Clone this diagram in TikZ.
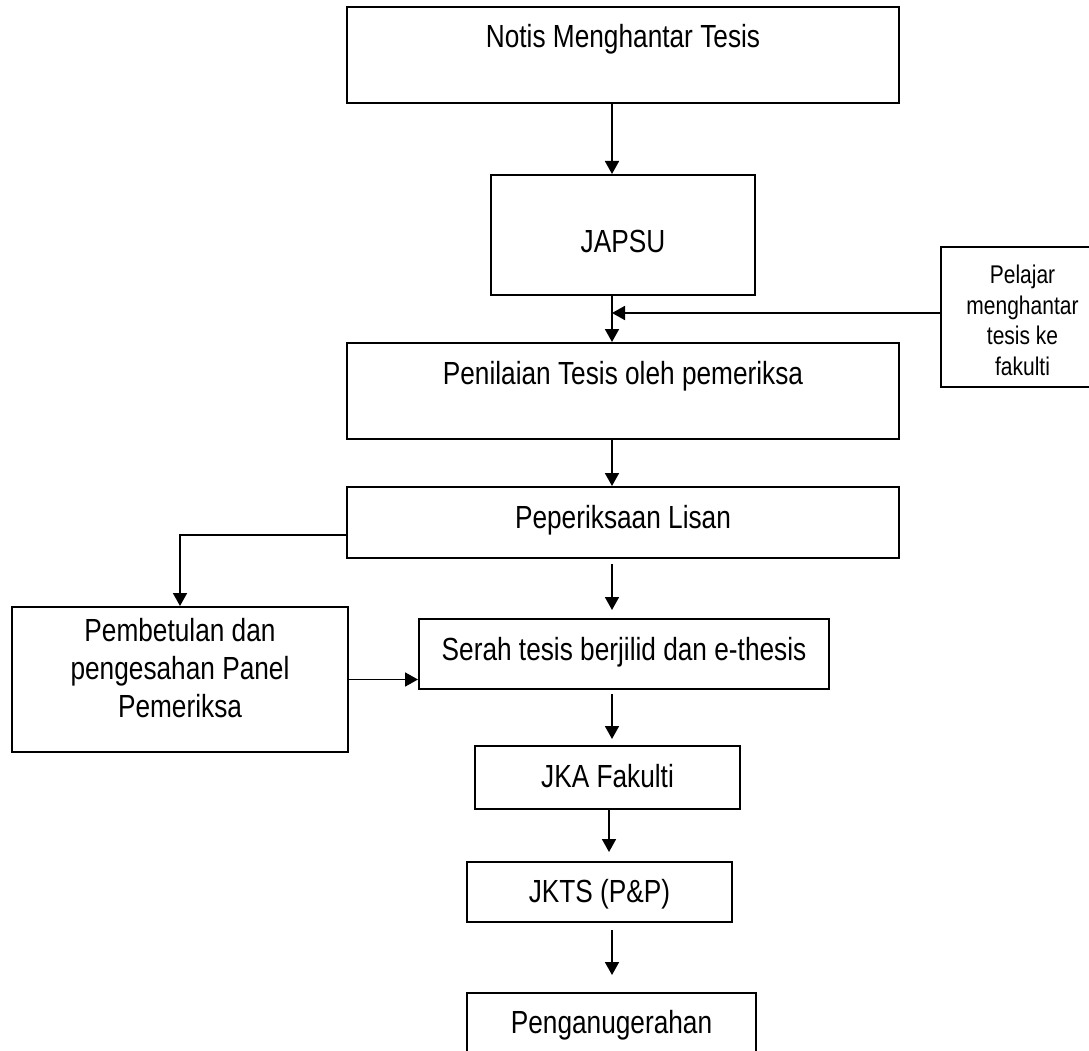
\documentclass[tikz,border=0pt]{standalone}
\usepackage{fontspec}
\setmainfont{Liberation Sans}[FakeStretch=0.82]
\usepackage{tikz}
\usetikzlibrary{arrows.meta}

\begin{document}
\begin{tikzpicture}[x=1pt,y=-1pt,
        >={Triangle[length=13pt,width=14pt]},
        box/.style={draw,line width=2pt,inner sep=0pt,font=\fontsize{32pt}{38pt}\selectfont},
        flow/.style={->,line width=1.8pt}]
        \useasboundingbox (0,0) rectangle (1089,1051);
        \clip (0,0) rectangle (1089,1051);
        \node[box,minimum width=552pt,minimum height=96pt,text height=23pt,text depth=37pt] (notis) at (623,55) {Notis Menghantar Tesis};
        \node[box,minimum width=264pt,minimum height=120pt,text height=40pt,text depth=6pt] (japsu) at (623,235) {JAPSU};
        \node[box,minimum width=163pt,minimum height=140pt,align=center,font=\fontsize{25.6pt}{30.5pt}\selectfont] (pelajar) at (1022.5,317) {\rule{0pt}{25.5pt}Pelajar\\menghantar\\tesis ke\\fakulti};
        \node[box,minimum width=552pt,minimum height=96pt,text height=23pt,text depth=37pt] (penilaian) at (623,391) {Penilaian Tesis oleh pemeriksa};
        \node[box,minimum width=552pt,minimum height=71pt,text height=23pt,text depth=12pt] (lisan) at (623,522.5) {Peperiksaan Lisan};
        \node[box,minimum width=336pt,minimum height=145pt,align=center] (pembetulan) at (180,679.5) {Pembetulan dan\\pengesahan Panel\\Pemeriksa\rule[-23pt]{0pt}{0pt}};
        \node[box,minimum width=410pt,minimum height=70pt,text height=23pt,text depth=11pt] (serah) at (624,654) {Serah tesis berjilid dan e-thesis};
        \node[box,minimum width=265pt,minimum height=63pt,text height=25pt,text depth=6pt] (jka) at (607.5,777.5) {JKA Fakulti};
        \node[box,minimum width=265pt,minimum height=60pt,text height=26pt,text depth=6pt] (jkts) at (599.5,892) {JKTS (P\&P)};
        \node[box,minimum width=289pt,minimum height=62pt,text height=24pt,text depth=6pt] (anugerah) at (611.5,1024) {Penganugerahan};
        \coordinate (join) at (612,313);
        \draw[flow] ([xshift=-11pt]notis.south) -- ([xshift=-11pt]japsu.north);
        \draw[flow] ([xshift=-11pt]japsu.south) -- ([xshift=-11pt]penilaian.north);
        \draw[flow] (pelajar.west |- join) -- (join);
        \draw[flow] ([xshift=-11pt]penilaian.south) -- ([xshift=-11pt]lisan.north);
        \draw[flow,shorten <=5pt,shorten >=8pt] ([xshift=-11pt]lisan.south) -- ([xshift=-11pt]lisan.south |- serah.north);
        \draw[flow] ([yshift=-12.5pt]lisan.west) -| (pembetulan.north);
        \draw[flow] (pembetulan.east) -- (pembetulan.east -| serah.west);
        \draw[flow,shorten <=4pt,shorten >=6pt] ([xshift=-12pt]serah.south) -- ([xshift=-12pt]serah.south |- jka.north);
        \draw[flow,shorten <=-2pt,shorten >=9pt] ([xshift=1.5pt]jka.south) -- ([xshift=1.5pt]jka.south |- jkts.north);
        \draw[flow,shorten <=7pt,shorten >=17pt] ([xshift=12.5pt]jkts.south) -- ([xshift=12.5pt]jkts.south |- anugerah.north);
\end{tikzpicture}
\end{document}
